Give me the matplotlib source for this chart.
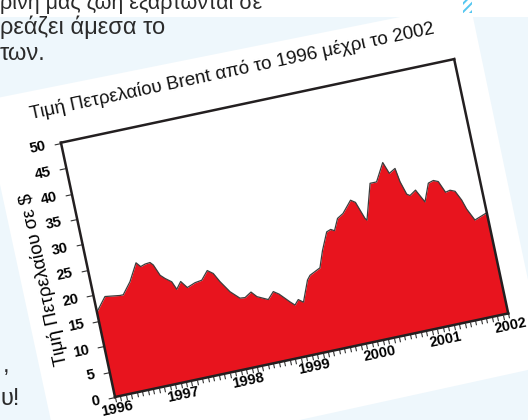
import numpy as np
import matplotlib
matplotlib.use("Agg")
import matplotlib.pyplot as plt
from matplotlib.transforms import Affine2D
from matplotlib.patches import Polygon, Rectangle
from mpl_toolkits.axisartist import floating_axes
from mpl_toolkits.axisartist.grid_finder import FixedLocator, DictFormatter

plt.rcParams['font.family'] = ['Liberation Sans', 'DejaVu Sans']
plt.rcParams['hatch.linewidth'] = 1.4

# ---------------- data ----------------
title = "Τιμή Πετρελαίου Brent από το 1996 μέχρι το 2002"
ylabel = "Τιμή Πετρελαίου σε $"
year_labels = [1996, 1997, 1998, 1999, 2000, 2001, 2002]
y_ticks = [0, 5, 10, 15, 20, 25, 30, 35, 40, 45, 50]

dates = [1996.000, 1996.165, 1996.387, 1996.438, 1996.577, 1996.723, 1996.780,
         1996.851, 1996.928, 1996.969, 1997.036, 1997.098, 1997.186, 1997.236,
         1997.317, 1997.396, 1997.523, 1997.629, 1997.739, 1997.818, 1997.891,
         1998.006, 1998.131, 1998.207, 1998.311, 1998.384, 1998.541, 1998.638,
         1998.714, 1998.850, 1998.913, 1998.978, 1999.046, 1999.173, 1999.225,
         1999.309, 1999.393, 1999.482, 1999.603, 1999.669, 1999.721, 1999.803,
         1999.898, 2000.049, 2000.114, 2000.204, 2000.228, 2000.387, 2000.486,
         2000.636, 2000.699, 2000.797, 2000.829, 2000.888, 2000.932, 2001.029,
         2001.131, 2001.238, 2001.319, 2001.388, 2001.461, 2001.533, 2001.603,
         2001.672, 2001.717, 2001.804, 2002.000]
prices = [16.7, 19.3, 18.9, 18.9, 21.1, 24.4, 23.5,
          23.8, 23.9, 23.3, 21.1, 20.3, 19.4, 17.8,
          19.1, 17.7, 18.3, 18.5, 20.1, 19.3, 17.5,
          15.2, 13.6, 13.5, 14.3, 13.2, 12.2, 13.5,
          12.8, 10.9, 10.1, 11.0, 10.3, 14.3, 15.1,
          15.6, 16.1, 19.2, 22.6, 22.9, 22.5, 24.7,
          25.4, 27.6, 27.0, 23.6, 23.2, 30.0, 30.0,
          33.4, 31.1, 31.8, 29.1, 26.5, 26.1, 26.9,
          24.3, 27.7, 28.0, 27.6, 25.3, 25.5, 25.1,
          23.2, 21.3, 18.9, 19.8]

para_lines = ["ρινή μας ζωή εξαρτώνται σε", "ρεάζει άμεσα το", "των."]
foot_lines = [",", "υ!"]

# ---------------- layout ----------------
W, H = 528, 420
fig = plt.figure(figsize=(W / 100, H / 100), dpi=100)
fig.patch.set_facecolor('#eef7fc')


def fp(x, y):
    return (x / W, 1 - y / H)


# white header band and rotated white sheet
fig.add_artist(Rectangle(fp(0, 17), 1, 17 / H, transform=fig.transFigure,
                         facecolor='white', edgecolor='none', zorder=-10))
sheet = [fp(-18, 101), fp(470, 3), fp(546, 366), fp(62, 472)]
fig.add_artist(Polygon(sheet, closed=True, transform=fig.transFigure,
                       facecolor='white', edgecolor='none', zorder=-9))
fig.add_artist(Rectangle(fp(463, 13), 9 / W, 13 / H, transform=fig.transFigure,
                         facecolor='none', edgecolor='#55c6f0', hatch='////',
                         linewidth=0, zorder=-8))

# paragraph fragments
txtc = '#2b2b2b'
for ln, (xl, yb, fs) in zip(para_lines, [(0, 9, 15.5), (0, 34, 17), (0, 60, 17)]):
    fig.text(*fp(xl, yb), ln, fontsize=fs, color=txtc, ha='left', va='baseline')
for ln, (xl, yb) in zip(foot_lines, [(3, 372), (0, 405)]):
    fig.text(*fp(xl, yb), ln, fontsize=17, color=txtc, ha='left', va='baseline')

# rotated chart
x0, x1, y0, y1 = year_labels[0], year_labels[-1], y_ticks[0], y_ticks[-1]
ang = 12.0
aw, ah = 402.0, 260.0
blx, bly = 115.0, 397.0
sx, sy = aw / (x1 - x0), ah / (y1 - y0)
tr = Affine2D().translate(-x0, 0).scale(sx, sy).rotate_deg(ang)

c, s = np.cos(np.radians(ang)), np.sin(np.radians(ang))
bw = aw * c + ah * s
bh = aw * s + ah * c
cx = (blx - ah * s) + bw / 2
cy = (H - bly) + bh / 2
pad = 1.02
rect = [(cx - bw * pad / 2) / W, (cy - bh * pad / 2) / H, bw * pad / W, bh * pad / H]

month_ticks = [yr + m / 12 for yr in year_labels[:-1] for m in range(12)] + [float(year_labels[-1])]
gh = floating_axes.GridHelperCurveLinear(
    tr, extremes=(x0, x1, y0, y1),
    grid_locator1=FixedLocator(month_ticks),
    tick_formatter1=DictFormatter({float(v): str(v) for v in year_labels}),
    grid_locator2=FixedLocator(y_ticks),
    tick_formatter2=DictFormatter({float(v): str(v) for v in y_ticks}))
ax = fig.add_axes(rect, axes_class=floating_axes.FloatingAxes, grid_helper=gh)
ax.set_facecolor('white')
aux = ax.get_aux_axes(tr)

red = '#e8141e'
aux.fill_between(dates, prices, y0, color=red, linewidth=0)
aux.plot(dates, prices, color='#3c3c3c', linewidth=0.9)

for k in ["left", "right", "top", "bottom"]:
    ax.axis[k].line.set_edgecolor('#231f20')
    ax.axis[k].line.set_linewidth(1.8)
for k in ["right", "top"]:
    ax.axis[k].toggle(ticks=False, ticklabels=False, label=False)

axb = ax.axis["bottom"]
axb.major_ticks.set_ticksize(3.5)
axb.major_ticks.set_tick_out(True)
axb.major_ticks.set_color('#333333')
axb.major_ticklabels.set_fontsize(10.5)
axb.major_ticklabels.set_fontweight('bold')
axb.major_ticklabels.set_pad(1)

axl = ax.axis["left"]
axl.major_ticks.set_ticksize(5)
axl.major_ticks.set_tick_out(True)
axl.major_ticks.set_color('#333333')
axl.major_ticklabels.set_fontsize(10.5)
axl.major_ticklabels.set_fontweight('bold')
axl.major_ticklabels.set_pad(6)
axl.label.set_text(ylabel)
axl.label.set_fontsize(13.5)
axl.label.set_visible(True)
axl.label.set_pad(3)

aux.text(x0 + 182 / sx, y1 + 34 / sy, title, rotation=ang, rotation_mode='anchor',
         ha='center', va='center', fontsize=13.5, color='#111111')

fig.savefig("out.png", dpi=100, facecolor=fig.get_facecolor())
